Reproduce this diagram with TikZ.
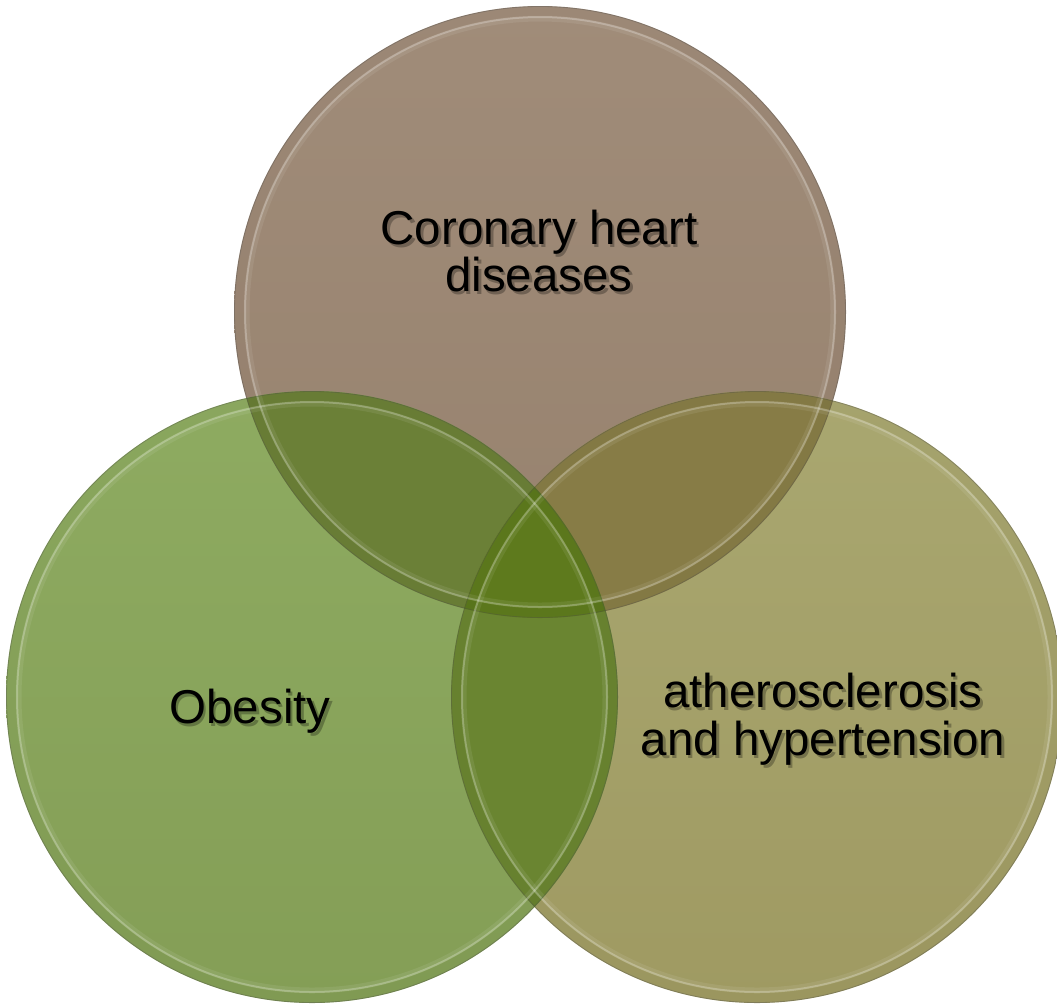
\documentclass[tikz,border=0pt]{standalone}
\usepackage{fontspec}
\setmainfont{Liberation Sans}
\definecolor{topA}{HTML}{A08C79}
\definecolor{topB}{HTML}{97826E}
\definecolor{leftA}{HTML}{8EAB61}
\definecolor{leftB}{HTML}{849E56}
\definecolor{rightA}{HTML}{A9A770}
\definecolor{rightB}{HTML}{9F9A62}
\definecolor{cTL}{HTML}{6B8037}
\definecolor{cTR}{HTML}{877C46}
\definecolor{cLR}{HTML}{6A8531}
\definecolor{cTLR}{HTML}{5E7A1D}
\newcommand\mylbl[3]{%
  \node[shd,xshift=2.5pt,yshift=-3pt] at (#2) {#3};
  \node[lbl] (#1) at (#2) {#3};}
\begin{document}
\begin{tikzpicture}[x=1pt,y=-1pt,
  lbl/.style={font=\fontsize{47.5}{48}\selectfont, text=black, inner sep=0pt, anchor=base},
  shd/.style={font=\fontsize{47.5}{48}\selectfont, text=black, text opacity=0.28, inner sep=0pt, anchor=base},
  rimline/.style={draw=black!70, draw opacity=0.35, line width=0.8pt},
  band/.style={draw=black, draw opacity=0.025, line width=9pt},
  glint/.style={draw=white, draw opacity=0.25, line width=2pt},
  glintsoft/.style={draw=white, draw opacity=0.08, line width=5pt}]
\useasboundingbox (0,0) rectangle (1057,1005);
\coordinate (cT) at (540,312);
\coordinate (cL) at (312,697);
\coordinate (cR) at (757,697);
% base fills
\shade[top color=topA, bottom color=topB] (cT) circle (306pt);
\shade[top color=rightA, bottom color=rightB] (cR) circle (306pt);
\shade[top color=leftA, bottom color=leftB] (cL) circle (306pt);
% pairwise overlaps
\begin{scope}
  \clip (cT) circle (306pt);
  \fill[cTL] (cL) circle (306pt);
  \fill[cTR] (cR) circle (306pt);
\end{scope}
\begin{scope}
  \clip (cL) circle (306pt);
  \fill[cLR] (cR) circle (306pt);
\end{scope}
\begin{scope}
  \clip (cT) circle (306pt);
  \clip (cL) circle (306pt);
  \fill[cTLR] (cR) circle (306pt);
\end{scope}
% rims
\foreach \c in {cT,cR,cL}{
  \draw[band] (\c) circle (301pt);
  \draw[glintsoft] (\c) circle (293pt);
  \draw[glint] (\c) circle (295pt);
  \draw[rimline] (\c) circle (305.5pt);
}
% labels
\mylbl{t1}{539,244}{Coronary heart}
\mylbl{t2}{539,291}{diseases}
\mylbl{l1}{250,723}{Obesity}
\mylbl{r1}{823,707}{atherosclerosis}
\mylbl{r2}{823,755}{and hypertension}
\end{tikzpicture}
\end{document}
